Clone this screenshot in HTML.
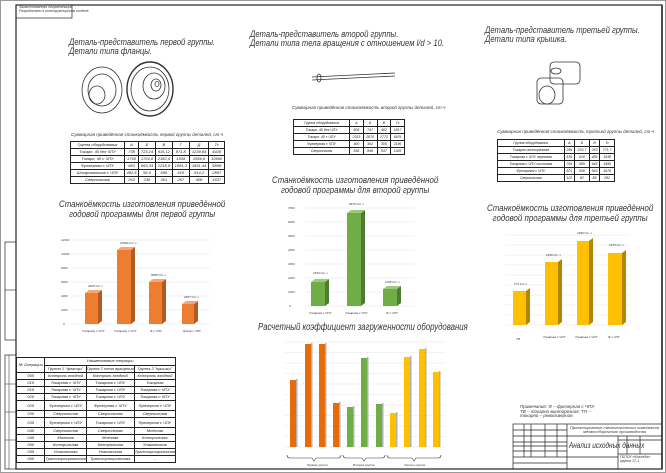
<!DOCTYPE html>
<html><head><meta charset="utf-8"><style>
body{margin:0;width:666px;height:473px;overflow:hidden;background:#fff;position:relative;font-family:"Liberation Sans Narrow","Liberation Sans",sans-serif;}
.a{position:absolute}
.t{font-style:italic;color:#333;line-height:1.05;white-space:nowrap}
table{border-collapse:collapse;position:absolute;font-style:italic;font-size:4px;color:#222;line-height:4px}
td{border:0.8px solid #222;text-align:center;padding:0;height:6px;white-space:nowrap}
</style></head><body>
<svg class="a" style="left:0;top:0" width="666" height="473">
<rect x="0.5" y="0.5" width="665" height="472" fill="none" stroke="#999"/>
<rect x="16" y="5" width="646" height="464" fill="none" stroke="#222" stroke-width="1.2"/>
<line x1="662" y1="5" x2="662" y2="469" stroke="#222" stroke-width="1.5"/>
<rect x="16" y="5" width="56" height="13" fill="none" stroke="#222" stroke-width="0.7"/>
<rect x="5" y="242" width="11" height="98" fill="none" stroke="#222" stroke-width="0.7"/>
<line x1="5" y1="290" x2="16" y2="290" stroke="#222" stroke-width="0.6"/>
<rect x="5" y="355" width="11" height="114" fill="none" stroke="#222" stroke-width="0.7"/>
<line x1="9" y1="355" x2="9" y2="469" stroke="#222" stroke-width="0.5"/>
<g stroke="#222" stroke-width="0.5"><line x1="5" y1="384" x2="16" y2="384"/><line x1="5" y1="412" x2="16" y2="412"/><line x1="5" y1="440" x2="16" y2="440"/></g>
<g fill="none" stroke="#333" stroke-width="0.8">
<ellipse cx="102" cy="90" rx="20" ry="23"/><ellipse cx="102" cy="90" rx="14" ry="16"/><ellipse cx="97" cy="95" rx="8" ry="9"/>
<ellipse cx="150" cy="89" rx="23" ry="27" stroke-width="1.4"/><ellipse cx="150" cy="89" rx="19" ry="22"/><ellipse cx="154" cy="86" rx="11" ry="13"/><ellipse cx="156" cy="85" rx="5" ry="6"/><ellipse cx="157" cy="84" rx="2" ry="2.5"/>
</g>
<g fill="none" stroke="#333" stroke-width="0.8"><line x1="312" y1="77" x2="395" y2="73"/><line x1="312" y1="80" x2="395" y2="76"/><ellipse cx="319" cy="78" rx="2" ry="4"/></g>
<g fill="none" stroke="#333" stroke-width="0.8"><rect x="537" y="78" width="26" height="26" rx="4"/><rect x="550" y="62" width="30" height="22" rx="4"/><ellipse cx="547" cy="95" rx="8" ry="9"/><ellipse cx="556" cy="71" rx="5" ry="3"/></g>
<g stroke="#e4e4e4" stroke-width="0.5"><line x1="70" y1="324" x2="210" y2="324"/><line x1="70" y1="310" x2="210" y2="310"/><line x1="70" y1="296" x2="210" y2="296"/><line x1="70" y1="282" x2="210" y2="282"/><line x1="70" y1="268" x2="210" y2="268"/><line x1="70" y1="254" x2="210" y2="254"/><line x1="70" y1="240" x2="210" y2="240"/></g>
<g font-size="3" fill="#444" font-style="italic"><text x="63" y="325">0</text><text x="61" y="311">2000</text><text x="61" y="297">4000</text><text x="61" y="283">6000</text><text x="61" y="269">8000</text><text x="61" y="255">10000</text><text x="61" y="241">12000</text></g>
<g fill="#ed7d31"><rect x="85" y="293" width="13" height="31"/><rect x="117" y="250" width="14" height="74"/><rect x="149" y="282" width="13" height="42"/><rect x="182" y="304" width="12" height="20"/></g>
<g fill="#b35a1e"><polygon points="98,293 102,290 102,321 98,324"/><polygon points="131,250 135,247 135,321 131,324"/><polygon points="162,282 166,279 166,321 162,324"/><polygon points="194,304 198,301 198,321 194,324"/></g>
<g fill="#f4a777"><polygon points="85,293 89,290 102,290 98,293"/><polygon points="117,250 121,247 135,247 131,250"/><polygon points="149,282 153,279 166,279 162,282"/><polygon points="182,304 186,301 198,301 194,304"/></g>
<g font-size="3" fill="#333" font-style="italic"><text x="88" y="287">4428 Ст·ч</text><text x="120" y="244">10560 Ст·ч</text><text x="151" y="276">5898 Ст·ч</text><text x="184" y="298">2897 Ст·ч</text>
<text x="82" y="332">Токарная с ЧПУ</text><text x="114" y="332">Токарная с ЧПУ</text><text x="150" y="332">Ф с ЧПУ</text><text x="183" y="332">Шлиф с ЧПУ</text></g>
<g stroke="#e4e4e4" stroke-width="0.5"><line x1="305" y1="306" x2="415" y2="306"/><line x1="305" y1="292" x2="415" y2="292"/><line x1="305" y1="278" x2="415" y2="278"/><line x1="305" y1="264" x2="415" y2="264"/><line x1="305" y1="250" x2="415" y2="250"/><line x1="305" y1="236" x2="415" y2="236"/><line x1="305" y1="222" x2="415" y2="222"/><line x1="305" y1="208" x2="415" y2="208"/></g>
<g font-size="3" fill="#444" font-style="italic"><text x="289" y="307">0</text><text x="288" y="293">1000</text><text x="288" y="279">2000</text><text x="288" y="265">3000</text><text x="288" y="251">4000</text><text x="288" y="237">5000</text><text x="288" y="223">6000</text><text x="288" y="209">7000</text></g>
<g fill="#70ad47"><rect x="311" y="282" width="14" height="24"/><rect x="347" y="213" width="14" height="93"/><rect x="383" y="289" width="14" height="17"/></g>
<g fill="#4e7d31"><polygon points="325,282 329,279 329,303 325,306"/><polygon points="361,213 365,210 365,303 361,306"/><polygon points="397,289 401,286 401,303 397,306"/></g>
<g fill="#9cc97e"><polygon points="311,282 315,279 329,279 325,282"/><polygon points="347,213 351,210 365,210 361,213"/><polygon points="383,289 387,286 401,286 397,289"/></g>
<g font-size="3" fill="#333" font-style="italic"><text x="313" y="274">1810 Ст·ч</text><text x="349" y="205">6976 Ст·ч</text><text x="385" y="283">1196 Ст·ч</text>
<text x="309" y="314">Токарная с ЧПУ</text><text x="345" y="314">Токарная с ЧПУ</text><text x="386" y="314">Ф с ЧПУ</text></g>
<g stroke="#e4e4e4" stroke-width="0.5"><line x1="505" y1="325" x2="630" y2="325"/><line x1="505" y1="315" x2="630" y2="315"/><line x1="505" y1="305" x2="630" y2="305"/><line x1="505" y1="295" x2="630" y2="295"/><line x1="505" y1="285" x2="630" y2="285"/><line x1="505" y1="275" x2="630" y2="275"/><line x1="505" y1="265" x2="630" y2="265"/><line x1="505" y1="255" x2="630" y2="255"/><line x1="505" y1="245" x2="630" y2="245"/><line x1="505" y1="235" x2="630" y2="235"/></g>
<g fill="#ffc000"><rect x="513" y="291" width="13" height="34"/><rect x="545" y="262" width="13" height="63"/><rect x="577" y="241" width="12" height="84"/><rect x="608" y="253" width="14" height="72"/></g>
<g fill="#b38600"><polygon points="526,291 530,288 530,322 526,325"/><polygon points="558,262 562,259 562,322 558,325"/><polygon points="589,241 593,238 593,322 589,325"/><polygon points="622,253 626,250 626,322 622,325"/></g>
<g font-size="3" fill="#333" font-style="italic"><text x="514" y="285">771 Ст·ч</text><text x="546" y="256">1638 Ст·ч</text><text x="577" y="234">1999 Ст·ч</text><text x="609" y="246">1678 Ст·ч</text>
<text x="516" y="340">ТВ</text><text x="543" y="338">Токарная с ЧПУ</text><text x="575" y="338">Токарная с ЧПУ</text><text x="608" y="338">Ф с ЧПУ</text></g>
<g stroke="#e4e4e4" stroke-width="0.5"><line x1="285" y1="447" x2="445" y2="447"/><line x1="285" y1="436.5" x2="445" y2="436.5"/><line x1="285" y1="426" x2="445" y2="426"/><line x1="285" y1="415.5" x2="445" y2="415.5"/><line x1="285" y1="405" x2="445" y2="405"/><line x1="285" y1="394.5" x2="445" y2="394.5"/><line x1="285" y1="384" x2="445" y2="384"/><line x1="285" y1="373.5" x2="445" y2="373.5"/><line x1="285" y1="363" x2="445" y2="363"/><line x1="285" y1="352.5" x2="445" y2="352.5"/><line x1="285" y1="342" x2="445" y2="342"/></g>
<g fill="#e46c0a"><rect x="290" y="380" width="6" height="67"/><rect x="305" y="344" width="6" height="103"/><rect x="319" y="344" width="6" height="103"/><rect x="333" y="403" width="6" height="44"/></g>
<g fill="#70ad47"><rect x="347" y="407" width="6" height="40"/><rect x="361" y="358" width="6" height="89"/><rect x="376" y="404" width="6" height="43"/></g>
<g fill="#ffc000"><rect x="390" y="413" width="6" height="34"/><rect x="404" y="357" width="6" height="90"/><rect x="419" y="349" width="6" height="98"/><rect x="433" y="372" width="6" height="75"/></g>
<g fill="#000" opacity="0.3"><rect x="296" y="379" width="1.5" height="68"/><rect x="311" y="343" width="1.5" height="104"/><rect x="325" y="343" width="1.5" height="104"/><rect x="339" y="402" width="1.5" height="45"/><rect x="353" y="406" width="1.5" height="41"/><rect x="367" y="357" width="1.5" height="90"/><rect x="382" y="403" width="1.5" height="44"/><rect x="396" y="412" width="1.5" height="35"/><rect x="410" y="356" width="1.5" height="91"/><rect x="425" y="348" width="1.5" height="99"/><rect x="439" y="371" width="1.5" height="76"/></g>
<g fill="none" stroke="#333" stroke-width="0.6"><path d="M287,455 q0,3 3,3 h22 l2,3 l2,-3 h22 q3,0 3,-3"/><path d="M343,455 q0,3 3,3 h16 l2,3 l2,-3 h16 q3,0 3,-3"/><path d="M387,455 q0,3 3,3 h22 l2,3 l2,-3 h22 q3,0 3,-3"/></g>
<g font-size="3" fill="#333" font-style="italic"><text x="307" y="466">Первая группа</text><text x="353" y="466">Вторая группа</text><text x="404" y="466">Третья группа</text></g>
<g fill="none" stroke="#222" stroke-width="0.7"><rect x="513" y="424" width="149" height="45"/><line x1="567" y1="424" x2="567" y2="469"/><line x1="618" y1="436" x2="618" y2="469"/><line x1="567" y1="436" x2="662" y2="436"/><line x1="618" y1="440" x2="662" y2="440"/><line x1="618" y1="454" x2="662" y2="454"/><line x1="567" y1="457" x2="618" y2="457"/><line x1="627" y1="436" x2="627" y2="454"/><line x1="640" y1="436" x2="640" y2="454"/><line x1="524" y1="424" x2="524" y2="457"/><line x1="531" y1="424" x2="531" y2="457"/><line x1="545" y1="424" x2="545" y2="457"/><line x1="557" y1="424" x2="557" y2="457"/><line x1="513" y1="430" x2="567" y2="430"/><line x1="513" y1="436" x2="567" y2="436"/><line x1="513" y1="442" x2="567" y2="442"/><line x1="513" y1="446" x2="567" y2="446"/><line x1="513" y1="451" x2="567" y2="451"/><line x1="513" y1="457" x2="567" y2="457"/><line x1="513" y1="463" x2="567" y2="463"/></g>
</svg>
<div class="a t" style="left:19px;top:6px;font-size:3.5px">Заимствованная документация<br>Разработано в конструкторском отделе</div>
<div class="a t" style="left:69px;top:38px;font-size:9px;transform:scaleX(0.85);transform-origin:left">Деталь-представитель первой группы.<br>Детали типа фланцы.</div>
<div class="a t" style="left:250px;top:30px;font-size:9px;transform:scaleX(0.85);transform-origin:left">Деталь-представитель второй группы.<br>Детали типа тела вращения с отношением l/d &gt; 10.</div>
<div class="a t" style="left:485px;top:26px;font-size:9px;transform:scaleX(0.85);transform-origin:left">Деталь-представитель третьей группы.<br>Детали типа крышка.</div>
<div class="a t" style="left:71px;top:133px;font-size:4.5px">Суммарная приведённая станкоёмкость первой группы деталей, ст·ч</div>
<table style="left:70px;top:141px;width:155px">
<tr><td>Группа оборудования</td><td>А</td><td>Б</td><td>В</td><td>Г</td><td>Д</td><td>Тс</td></tr>
<tr><td>Токарн. 40 без ЧПУ</td><td>738</td><td>723,24</td><td>915,12</td><td>871,8</td><td>1239,84</td><td>4428</td></tr>
<tr><td>Токарн. 40 с ЧПУ</td><td>1760</td><td>1724,8</td><td>2182,4</td><td>1936</td><td>2956,8</td><td>10560</td></tr>
<tr><td>Фрезерная с ЧПУ</td><td>983</td><td>963,34</td><td>1218,9</td><td>1081,3</td><td>1651,44</td><td>5898</td></tr>
<tr><td>Шлифовальная с ЧПУ</td><td>482,5</td><td>56,9</td><td>695</td><td>616</td><td>914,2</td><td>2897</td></tr>
<tr><td>Сверлильная</td><td>263</td><td>238</td><td>301</td><td>267</td><td>408</td><td>1637</td></tr></table>
<div class="a t" style="left:292px;top:106px;font-size:4.5px">Суммарная приведённая станкоёмкость второй группы деталей, ст·ч</div>
<table style="left:293px;top:119px;width:112px;font-size:3.5px">
<tr><td>Группа оборудования</td><td>А</td><td>Б</td><td>В</td><td>Тс</td></tr>
<tr><td>Токарн. 40 без ЧПУ</td><td>608</td><td>747</td><td>462</td><td>1817</td></tr>
<tr><td>Токарн. 40 с ЧПУ</td><td>2333</td><td>2870</td><td>1773</td><td>6976</td></tr>
<tr><td>Фрезерная с ЧПУ</td><td>400</td><td>492</td><td>306</td><td>1196</td></tr>
<tr><td>Сверлильная</td><td>536</td><td>848</td><td>547</td><td>1926</td></tr></table>
<div class="a t" style="left:497px;top:130px;font-size:4.5px">Суммарная приведённая станкоёмкость третьей группы деталей, ст·ч</div>
<table style="left:497px;top:139px;width:118px;font-size:3.5px">
<tr><td>Группа оборудования</td><td>А</td><td>Б</td><td>В</td><td>Тс</td></tr>
<tr><td>Токарно-винторезная</td><td>285</td><td>233,7</td><td>253</td><td>771,7</td></tr>
<tr><td>Токарная с ЧПУ черновая</td><td>535</td><td>618</td><td>485</td><td>1638</td></tr>
<tr><td>Токарная с ЧПУ чистовая</td><td>764</td><td>589</td><td>646</td><td>1999</td></tr>
<tr><td>Фрезерная с ЧПУ</td><td>621</td><td>508</td><td>549</td><td>1678</td></tr>
<tr><td>Сверлильная</td><td>102</td><td>82</td><td>89</td><td>282</td></tr></table>
<div class="a t" style="left:59px;top:200px;font-size:9.5px;text-align:center;transform:scaleX(0.83);transform-origin:left">Станкоёмкость изготовления приведённой<br>годовой программы для первой группы</div>
<div class="a t" style="left:272px;top:176px;font-size:9.5px;text-align:center;transform:scaleX(0.83);transform-origin:left">Станкоёмкость изготовления приведённой<br>годовой программы для второй группы</div>
<div class="a t" style="left:487px;top:204px;font-size:9.5px;text-align:center;transform:scaleX(0.83);transform-origin:left">Станкоёмкость изготовления приведённой<br>годовой программы для третьей группы</div>
<div class="a t" style="left:258px;top:323px;font-size:10px;transform:scaleX(0.78);transform-origin:left">Расчетный коэффициент загруженности оборудования</div>
<div class="a t" style="left:520px;top:405px;font-size:4.5px">Примечание: Ф – фрезерная с ЧПУ;<br>ТВ – токарно-винторезная; ТП –<br>токарно – револьверная.</div>
<div class="a t" style="left:570px;top:426px;font-size:4px;text-align:center">Проектирование технологических комплексов<br>механосборочного производства</div>
<div class="a t" style="left:569px;top:442px;font-size:8px;transform:scaleX(0.8);transform-origin:left">Анализ исходных данных</div>
<div class="a t" style="left:620px;top:456px;font-size:3.5px">ГБПОУ «Колледж»<br>группа 17-1</div>
<table style="left:16px;top:357px;width:160px;font-size:4px">
<tr><td rowspan="2" style="height:14px;width:38px">№ Операции</td><td colspan="3">Наименование операции</td></tr>
<tr><td>Группа 1 "фланцы"</td><td>Группа 2 тела вращения</td><td>Группа 3 "крышки"</td></tr>
<tr><td>005</td><td>Контроль входной</td><td>Контроль входной</td><td>Контроль входной</td></tr>
<tr><td>010</td><td>Токарная с ЧПУ</td><td>Токарная с ЧПУ</td><td>Токарная</td></tr>
<tr><td>015</td><td>Токарная с ЧПУ</td><td>Токарная с ЧПУ</td><td>Токарная с ЧПУ</td></tr>
<tr><td>020</td><td>Токарная с ЧПУ</td><td>Токарная с ЧПУ</td><td>Токарная с ЧПУ</td></tr>
<tr><td style="height:9px">025</td><td>Фрезерная с ЧПУ</td><td>Фрезерная с ЧПУ</td><td>Фрезерная с ЧПУ</td></tr>
<tr><td>030</td><td>Сверлильная</td><td>Сверлильная</td><td>Сверлильная</td></tr>
<tr><td style="height:9px">035</td><td>Фрезерная с ЧПУ</td><td>Токарная с ЧПУ</td><td>Фрезерная с ЧПУ</td></tr>
<tr><td style="height:4px">040</td><td>Сверлильная</td><td>Сверлильная</td><td>Моечная</td></tr>
<tr><td style="height:4px">045</td><td>Моечная</td><td>Моечная</td><td>Контрольная</td></tr>
<tr><td>050</td><td>Контрольная</td><td>Контрольная</td><td>Упаковочная</td></tr>
<tr><td>055</td><td>Упаковочная</td><td>Упаковочная</td><td>Транспортировочная</td></tr>
<tr><td>060</td><td>Транспортировочная</td><td>Транспортировочная</td><td>-</td></tr></table>
</body></html>
